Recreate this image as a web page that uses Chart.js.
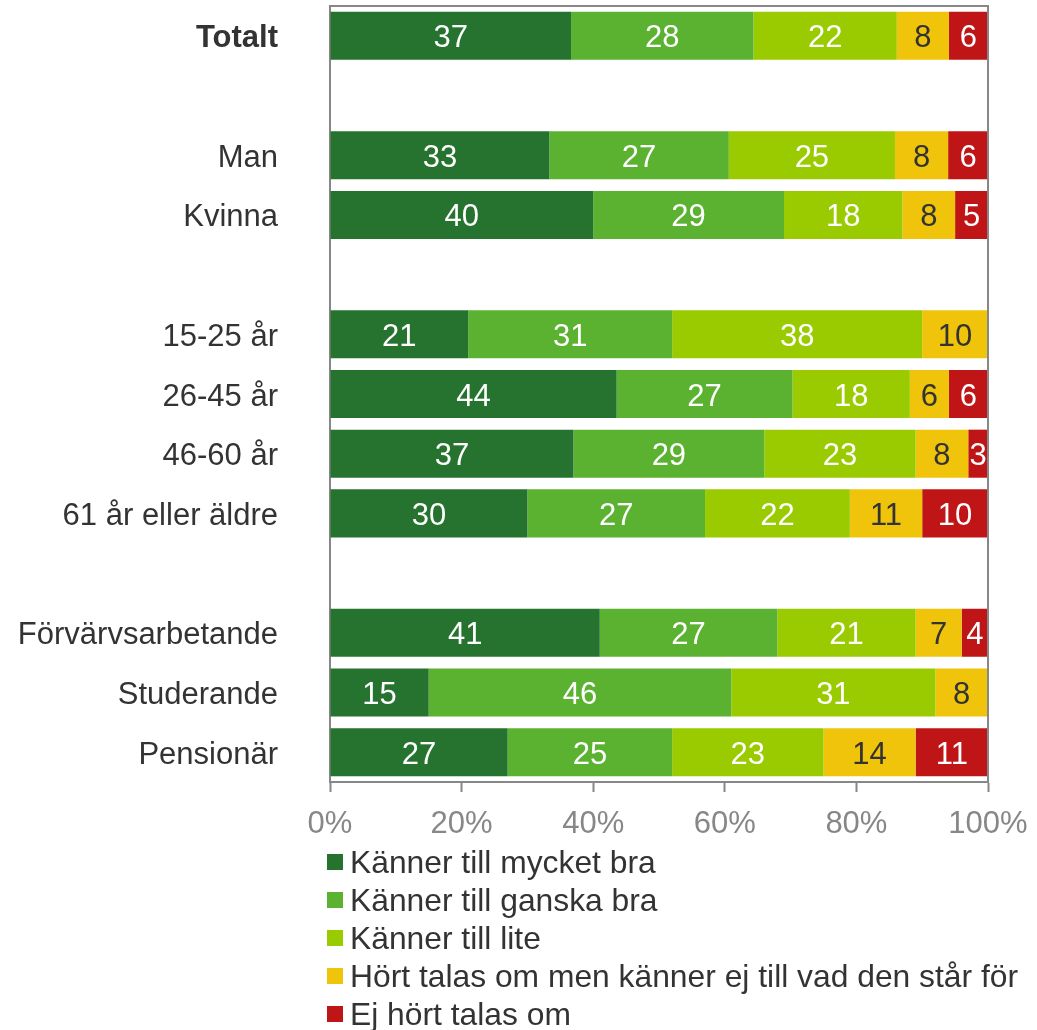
<!DOCTYPE html>
<html>
<head>
<meta charset="utf-8">
<script src="https://cdn.jsdelivr.net/npm/chart.js@4/dist/chart.umd.min.js"></script>
<style>
  html, body { margin: 0; padding: 0; background: #ffffff; }
  #wrap { position: relative; width: 1037px; height: 1030px; overflow: hidden; }
  #c { position: absolute; left: 0; top: 0; }
  #legend { position: absolute; left: 327px; top: 843px; font-family: 'Liberation Sans', Arial, sans-serif; font-size: 31.8px; color: #333333; }
  .li { display: flex; align-items: center; height: 38px; line-height: 38px; white-space: nowrap; }
  .sw { width: 16px; height: 16px; margin-right: 7px; flex: none; }
</style>
</head>
<body>
<div id="wrap">
  <canvas id="c" width="1037" height="845"></canvas>
  <div id="legend"></div>
</div>
<script>
const categories = ['Totalt', '', 'Man', 'Kvinna', '', '15-25 år', '26-45 år', '46-60 år', '61 år eller äldre', '', 'Förvärvsarbetande', 'Studerande', 'Pensionär'];
const seriesNames = ['Känner till mycket bra', 'Känner till ganska bra', 'Känner till lite', 'Hört talas om men känner ej till vad den står för', 'Ej hört talas om'];
const mycketBra = [37, null, 33, 40, null, 21, 44, 37, 30, null, 41, 15, 27];
const ganskaBra = [28, null, 27, 29, null, 31, 27, 29, 27, null, 27, 46, 25];
const lite      = [22, null, 25, 18, null, 38, 18, 23, 22, null, 21, 31, 23];
const hortTalas = [8, null, 8, 8, null, 10, 6, 8, 11, null, 7, 8, 14];
const ejHort    = [6, null, 6, 5, null, null, 6, 3, 10, null, 4, null, 11];
const xTicks = [0, 20, 40, 60, 80, 100];

const seriesValues = [mycketBra, ganskaBra, lite, hortTalas, ejHort];
const colors = ['#26732f', '#5bb230', '#99cb00', '#efc40a', '#c01517'];
const labelColors = ['#ffffff', '#ffffff', '#ffffff', '#333333', '#ffffff'];

// row sums for 100% stacking
const rowSums = categories.map((_, i) => seriesValues.reduce((s, arr) => s + (arr[i] || 0), 0));
const FONT = "'Liberation Sans', Arial, sans-serif";
const GREY = '#878787';

const datasets = seriesValues.map((arr, k) => ({
  label: seriesNames[k],
  data: arr.map((v, i) => v == null ? null : v / rowSums[i] * 100),
  rawValues: arr,
  backgroundColor: colors[k],
  borderWidth: 0,
  barPercentage: 0.805,
  categoryPercentage: 1.0,
  labelColor: labelColors[k]
}));

const valueLabels = {
  id: 'valueLabels',
  afterDatasetsDraw(chart) {
    const ctx = chart.ctx;
    ctx.save();
    ctx.font = '31px ' + FONT;
    ctx.textAlign = 'center';
    ctx.textBaseline = 'middle';
    chart.data.datasets.forEach((ds, di) => {
      const meta = chart.getDatasetMeta(di);
      meta.data.forEach((el, i) => {
        const raw = ds.rawValues[i];
        if (raw == null) return;
        const p = el.getProps(['x', 'y', 'base'], true);
        ctx.fillStyle = ds.labelColor;
        ctx.fillText(String(raw), (p.x + p.base) / 2, p.y + 3);
      });
    });
    ctx.restore();
  },
  afterDraw(chart) {
    const a = chart.chartArea;
    const ctx = chart.ctx;
    ctx.save();
    ctx.strokeStyle = GREY;
    ctx.lineWidth = 2;
    ctx.beginPath();
    ctx.moveTo(a.left, a.top);
    ctx.lineTo(a.right, a.top);
    ctx.lineTo(a.right, a.bottom);
    ctx.stroke();
    ctx.restore();
  }
};

new Chart(document.getElementById('c'), {
  type: 'bar',
  data: { labels: categories, datasets },
  options: {
    indexAxis: 'y',
    responsive: false,
    animation: false,
    layout: { padding: { top: 6, right: 49, left: 0, bottom: 0 } },
    plugins: {
      legend: { display: false },
      tooltip: { enabled: false }
    },
    scales: {
      x: {
        stacked: true,
        min: 0,
        max: 100,
        afterBuildTicks: (scale) => { scale.ticks = xTicks.map(v => ({ value: v })); },
        afterFit: (scale) => { scale.height = 63; scale.paddingLeft = 0; scale.paddingRight = 0; },
        grid: { color: 'rgba(0,0,0,0)', tickColor: GREY, tickLength: 10, tickWidth: 2, drawOnChartArea: false },
        border: { display: true, color: GREY, width: 2 },
        ticks: { color: GREY, font: { family: FONT, size: 31 }, padding: 14, maxRotation: 0, callback: (v) => v + '%' }
      },
      y: {
        stacked: true,
        afterFit: (scale) => { scale.width = 330; scale.paddingTop = 0; scale.paddingBottom = 0; },
        grid: { display: false, drawTicks: false },
        border: { display: true, color: GREY, width: 2 },
        ticks: {
          color: '#333333',
          padding: 52,
          labelOffset: 3,
          autoSkip: false,
          font: (ctx) => ({ family: FONT, size: 31, weight: ctx.index === 0 ? 'bold' : 'normal' })
        }
      }
    }
  },
  plugins: [valueLabels]
});

// HTML legend built from series names and colours
const lg = document.getElementById('legend');
seriesNames.forEach((name, k) => {
  const row = document.createElement('div');
  row.className = 'li';
  const sw = document.createElement('span');
  sw.className = 'sw';
  sw.style.background = colors[k];
  const t = document.createElement('span');
  t.textContent = name;
  row.appendChild(sw);
  row.appendChild(t);
  lg.appendChild(row);
});
</script>
</body>
</html>
